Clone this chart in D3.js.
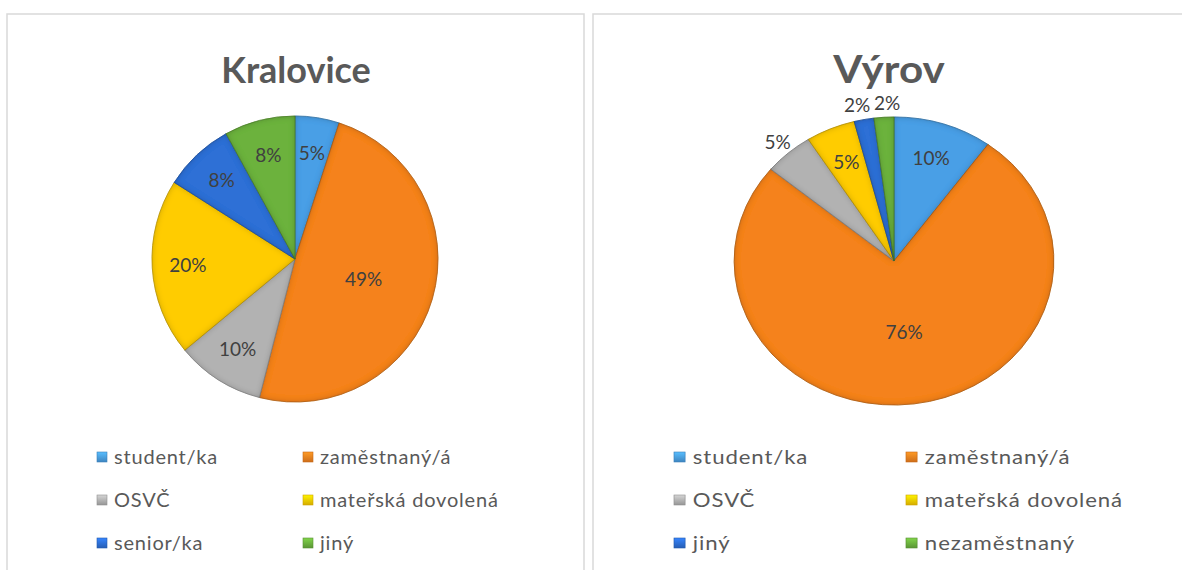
<!DOCTYPE html>
<html>
<head>
<meta charset="utf-8">
<script src="https://cdn.jsdelivr.net/npm/d3@7"></script>
<style>
  body { margin: 0; background: #fff; }
  svg { display: block; }
</style>
</head>
<body>
<svg id="chart" width="1182" height="570"></svg>
<script>
// data
const kraloviceLabels = ["student/ka", "zaměstnaný/á", "OSVČ", "mateřská dovolená", "senior/ka", "jiný"];
const kraloviceValues = [5, 49, 10, 20, 8, 8];

const vyrovLabels = ["student/ka", "zaměstnaný/á", "OSVČ", "mateřská dovolená", "jiný", "nezaměstnaný"];
const vyrovValues = [10, 76, 5, 5, 2, 2];

const colors = ["#4a9fe6", "#f5821f", "#b2b2b2", "#ffcc00", "#2d6fd6", "#6cb23e"];

// labels Excel pushed out of the slice
const vyrovOutside = ["OSVČ", "jiný", "nezaměstnaný"];

const svg = d3.select("#chart");
const font = "Lato, 'Open Sans', sans-serif";

// soft edge shading like the office bevel
const defs = svg.append("defs");
const f = defs.append("filter").attr("id", "bevel")
  .attr("x", "-5%").attr("y", "-5%").attr("width", "110%").attr("height", "110%");
f.append("feGaussianBlur").attr("in", "SourceAlpha").attr("stdDeviation", 3).attr("result", "blur");
f.append("feComposite").attr("in", "SourceAlpha").attr("in2", "blur")
  .attr("operator", "out").attr("result", "edge");
f.append("feFlood").attr("flood-color", "#000").attr("flood-opacity", 0.45).attr("result", "ink");
f.append("feComposite").attr("in", "ink").attr("in2", "edge").attr("operator", "in").attr("result", "shade");
const fm = f.append("feMerge");
fm.append("feMergeNode").attr("in", "SourceGraphic");
fm.append("feMergeNode").attr("in", "shade");

colors.forEach(function(c, i) {
  const g = defs.append("linearGradient").attr("id", "mk" + i)
    .attr("x1", 0).attr("y1", 0).attr("x2", 0).attr("y2", 1);
  g.append("stop").attr("offset", "0%").attr("stop-color", d3.color(c).brighter(0.5));
  g.append("stop").attr("offset", "100%").attr("stop-color", d3.color(c).darker(0.5));
});

function drawPanel(opt) {
  const g = svg.append("g");

  g.append("rect")
    .attr("x", opt.x).attr("y", 14)
    .attr("width", opt.w).attr("height", 600)
    .attr("fill", "#fff")
    .attr("stroke", "#d9d9d9")
    .attr("stroke-width", 1.5);

  g.append("text")
    .attr("transform", "translate(" + opt.titleX + ",83) scale(" + opt.sx + ",1)")
    .attr("text-anchor", "middle")
    .style("font-family", font)
    .style("font-size", opt.titleSize + "px")
    .style("font-weight", "bold")
    .style("fill", "#595959")
    .text(opt.title);

  const data = opt.labels.map(function(l, i) { return {label: l, value: opt.values[i], i: i}; });
  const pie = d3.pie().sort(null).value(function(d) { return d.value; });
  const arcs = pie(data);
  const r = opt.r;
  const arc = d3.arc().innerRadius(0).outerRadius(r);

  const pg = g.append("g")
    .attr("transform", "translate(" + opt.cx + "," + opt.cy + ") scale(" + opt.sx + ",1)");

  pg.selectAll("path")
    .data(arcs)
    .enter()
    .append("path")
    .attr("d", arc)
    .attr("fill", function(d) { return colors[d.data.i]; })
    .attr("stroke", function(d) { return d3.color(colors[d.data.i]).darker(0.7); })
    .attr("stroke-width", 0.8)
    .attr("filter", "url(#bevel)");

  // label spots: centroid-ish, largest slice nearer the middle, some outside
  const biggest = d3.max(opt.values);
  const spots = arcs.map(function(d) {
    let k = 0.75;
    if (d.data.value === biggest) k = 0.5;
    const out = opt.outside.indexOf(d.data.label) >= 0;
    if (out) k = 1.1;
    const a = (d.startAngle + d.endAngle) / 2;
    return {d: d, out: out, x: Math.sin(a) * r * k * opt.sx, y: -Math.cos(a) * r * k};
  });
  // keep neighbouring outside labels from running into each other
  const outs = spots.filter(function(s) { return s.out && Math.abs(s.x) < 40; });
  for (let i = 1; i < outs.length; i++) {
    const gap = 30 - Math.abs(outs[i].x - outs[i - 1].x);
    if (gap > 0) {
      const dir = outs[i].x > outs[i - 1].x ? 1 : -1;
      outs[i].x += dir * gap / 2;
      outs[i - 1].x -= dir * gap / 2;
    }
  }

  const lg = g.append("g").attr("transform", "translate(" + opt.cx + "," + opt.cy + ")");
  lg.selectAll("text")
    .data(spots)
    .enter()
    .append("text")
    .attr("transform", function(s) { return "translate(" + s.x + "," + s.y + ")"; })
    .attr("text-anchor", "middle")
    .attr("dy", "0.35em")
    .style("font-family", font)
    .style("font-size", "19px")
    .style("fill", "#404040")
    .text(function(s) { return s.d.data.value + "%"; });

  // legend, two columns
  const rows = [457, 500, 543];
  const leg = g.selectAll("g.leg")
    .data(data)
    .enter()
    .append("g")
    .attr("class", "leg")
    .attr("transform", function(d) {
      const col = d.i % 2, row = Math.floor(d.i / 2);
      return "translate(" + opt.legX[col] + "," + rows[row] + ") scale(" + opt.sx + ",1)";
    });
  leg.append("rect")
    .attr("x", 0).attr("y", -5)
    .attr("width", 10).attr("height", 10)
    .attr("fill", function(d) { return "url(#mk" + d.i + ")"; })
    .attr("stroke", function(d) { return d3.color(colors[d.i]).darker(0.6); })
    .attr("stroke-width", 0.6);
  leg.append("text")
    .attr("x", 17).attr("dy", "0.35em")
    .style("font-family", font)
    .style("font-size", "20px")
    .style("letter-spacing", "0.8px")
    .style("fill", "#595959")
    .text(function(d) { return d.label; });
}

drawPanel({
  title: "Kralovice", labels: kraloviceLabels, values: kraloviceValues,
  x: 7, w: 577, cx: 295, cy: 259, r: 143, sx: 1, titleX: 296, titleSize: 36,
  outside: [], legX: [97, 303]
});
drawPanel({
  title: "Výrov", labels: vyrovLabels, values: vyrovValues,
  x: 593, w: 600, cx: 894, cy: 261, r: 144, sx: 1.11, titleX: 889, titleSize: 38,
  outside: vyrovOutside, legX: [674, 906]
});
</script>
</body>
</html>
